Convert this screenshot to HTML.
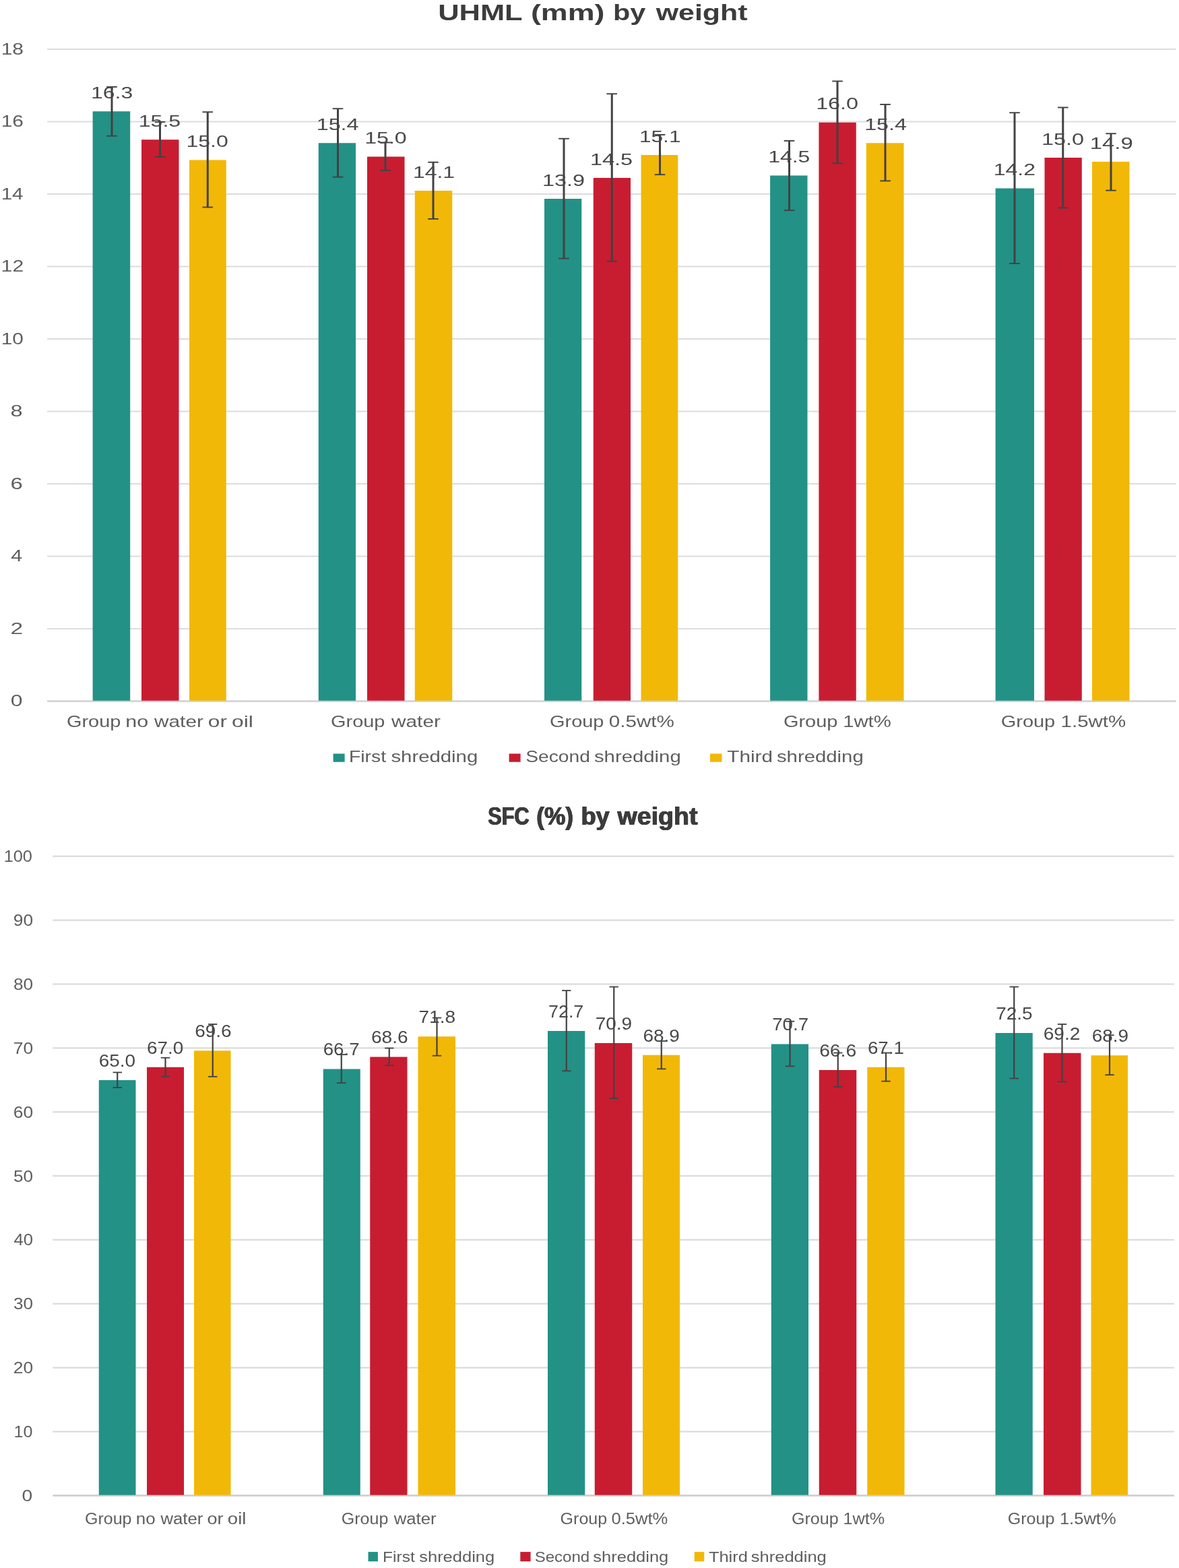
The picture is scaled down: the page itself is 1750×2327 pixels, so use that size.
<!DOCTYPE html>
<html lang="en"><head><meta charset="utf-8"><title>UHML and SFC by weight</title>
<style>
html,body{margin:0;padding:0;background:#fff;}
body{width:1750px;height:2327px;overflow:hidden;}
svg{display:block;font-family:"Liberation Sans",sans-serif;}
</style></head><body>
<svg width="1750" height="2327" viewBox="0 0 1750 2327">
<rect width="1750" height="2327" fill="#ffffff"/>
<g>
<rect x="70.00" y="72.00" width="1675.75" height="2.00" fill="#DCDCDC"/>
<rect x="70.00" y="179.51" width="1675.75" height="2.00" fill="#DCDCDC"/>
<rect x="70.00" y="287.02" width="1675.75" height="2.00" fill="#DCDCDC"/>
<rect x="70.00" y="394.53" width="1675.75" height="2.00" fill="#DCDCDC"/>
<rect x="70.00" y="502.04" width="1675.75" height="2.00" fill="#DCDCDC"/>
<rect x="70.00" y="609.56" width="1675.75" height="2.00" fill="#DCDCDC"/>
<rect x="70.00" y="717.07" width="1675.75" height="2.00" fill="#DCDCDC"/>
<rect x="70.00" y="824.58" width="1675.75" height="2.00" fill="#DCDCDC"/>
<rect x="70.00" y="932.09" width="1675.75" height="2.00" fill="#DCDCDC"/>
<rect x="70.00" y="1039.45" width="1675.75" height="2.30" fill="#CDCDCD"/>
<rect x="78.25" y="1269.60" width="1664.50" height="2.30" fill="#DCDCDC"/>
<rect x="78.25" y="1364.47" width="1664.50" height="2.30" fill="#DCDCDC"/>
<rect x="78.25" y="1459.35" width="1664.50" height="2.30" fill="#DCDCDC"/>
<rect x="78.25" y="1554.22" width="1664.50" height="2.30" fill="#DCDCDC"/>
<rect x="78.25" y="1649.10" width="1664.50" height="2.30" fill="#DCDCDC"/>
<rect x="78.25" y="1743.97" width="1664.50" height="2.30" fill="#DCDCDC"/>
<rect x="78.25" y="1838.85" width="1664.50" height="2.30" fill="#DCDCDC"/>
<rect x="78.25" y="1933.72" width="1664.50" height="2.30" fill="#DCDCDC"/>
<rect x="78.25" y="2028.60" width="1664.50" height="2.30" fill="#DCDCDC"/>
<rect x="78.25" y="2123.47" width="1664.50" height="2.30" fill="#DCDCDC"/>
<rect x="78.25" y="2218.20" width="1664.50" height="2.60" fill="#CDCDCD"/>
<rect x="137.60" y="165.25" width="55.60" height="874.55" fill="#239186"/>
<rect x="210.00" y="207.25" width="55.50" height="832.55" fill="#C81D31"/>
<rect x="281.00" y="237.50" width="54.75" height="802.30" fill="#F2B807"/>
<rect x="472.75" y="212.25" width="55.25" height="827.55" fill="#239186"/>
<rect x="545.00" y="232.50" width="55.50" height="807.30" fill="#C81D31"/>
<rect x="615.75" y="283.00" width="55.50" height="756.80" fill="#F2B807"/>
<rect x="808.00" y="295.00" width="55.25" height="744.80" fill="#239186"/>
<rect x="880.75" y="264.00" width="55.25" height="775.80" fill="#C81D31"/>
<rect x="951.50" y="230.00" width="54.75" height="809.80" fill="#F2B807"/>
<rect x="1143.10" y="260.50" width="55.40" height="779.30" fill="#239186"/>
<rect x="1215.40" y="181.75" width="55.35" height="858.05" fill="#C81D31"/>
<rect x="1285.75" y="212.25" width="55.75" height="827.55" fill="#F2B807"/>
<rect x="1477.60" y="279.50" width="57.40" height="760.30" fill="#239186"/>
<rect x="1550.50" y="234.00" width="55.25" height="805.80" fill="#C81D31"/>
<rect x="1621.00" y="240.00" width="55.50" height="799.80" fill="#F2B807"/>
<rect x="164.50" y="129.00" width="3.00" height="72.78" fill="#424242"/>
<rect x="158.20" y="128.05" width="15.60" height="1.90" fill="#424242"/>
<rect x="158.20" y="200.83" width="15.60" height="1.90" fill="#424242"/>
<rect x="236.00" y="181.00" width="3.00" height="51.80" fill="#424242"/>
<rect x="229.70" y="180.05" width="15.60" height="1.90" fill="#424242"/>
<rect x="229.70" y="231.85" width="15.60" height="1.90" fill="#424242"/>
<rect x="306.75" y="166.25" width="3.00" height="141.27" fill="#424242"/>
<rect x="300.45" y="165.30" width="15.60" height="1.90" fill="#424242"/>
<rect x="300.45" y="306.57" width="15.60" height="1.90" fill="#424242"/>
<rect x="500.00" y="161.25" width="3.00" height="101.48" fill="#424242"/>
<rect x="493.70" y="160.30" width="15.60" height="1.90" fill="#424242"/>
<rect x="493.70" y="261.78" width="15.60" height="1.90" fill="#424242"/>
<rect x="570.50" y="211.50" width="3.00" height="41.30" fill="#424242"/>
<rect x="564.20" y="210.55" width="15.60" height="1.90" fill="#424242"/>
<rect x="564.20" y="251.85" width="15.60" height="1.90" fill="#424242"/>
<rect x="641.50" y="240.75" width="3.00" height="84.15" fill="#424242"/>
<rect x="635.20" y="239.80" width="15.60" height="1.90" fill="#424242"/>
<rect x="635.20" y="323.95" width="15.60" height="1.90" fill="#424242"/>
<rect x="835.50" y="205.75" width="3.00" height="177.83" fill="#424242"/>
<rect x="829.20" y="204.80" width="15.60" height="1.90" fill="#424242"/>
<rect x="829.20" y="382.63" width="15.60" height="1.90" fill="#424242"/>
<rect x="906.75" y="139.25" width="3.00" height="248.62" fill="#424242"/>
<rect x="900.45" y="138.30" width="15.60" height="1.90" fill="#424242"/>
<rect x="900.45" y="386.93" width="15.60" height="1.90" fill="#424242"/>
<rect x="978.00" y="200.00" width="3.00" height="59.12" fill="#424242"/>
<rect x="971.70" y="199.05" width="15.60" height="1.90" fill="#424242"/>
<rect x="971.70" y="258.18" width="15.60" height="1.90" fill="#424242"/>
<rect x="1170.00" y="209.00" width="3.00" height="103.17" fill="#424242"/>
<rect x="1163.70" y="208.05" width="15.60" height="1.90" fill="#424242"/>
<rect x="1163.70" y="311.22" width="15.60" height="1.90" fill="#424242"/>
<rect x="1241.50" y="120.50" width="3.00" height="121.80" fill="#424242"/>
<rect x="1235.20" y="119.55" width="15.60" height="1.90" fill="#424242"/>
<rect x="1235.20" y="241.35" width="15.60" height="1.90" fill="#424242"/>
<rect x="1312.50" y="155.00" width="3.00" height="113.45" fill="#424242"/>
<rect x="1306.20" y="154.05" width="15.60" height="1.90" fill="#424242"/>
<rect x="1306.20" y="267.50" width="15.60" height="1.90" fill="#424242"/>
<rect x="1504.50" y="167.25" width="3.00" height="223.80" fill="#424242"/>
<rect x="1498.20" y="166.30" width="15.60" height="1.90" fill="#424242"/>
<rect x="1498.20" y="390.10" width="15.60" height="1.90" fill="#424242"/>
<rect x="1576.25" y="159.50" width="3.00" height="149.00" fill="#424242"/>
<rect x="1569.95" y="158.55" width="15.60" height="1.90" fill="#424242"/>
<rect x="1569.95" y="307.55" width="15.60" height="1.90" fill="#424242"/>
<rect x="1647.50" y="198.25" width="3.00" height="84.38" fill="#424242"/>
<rect x="1641.20" y="197.30" width="15.60" height="1.90" fill="#424242"/>
<rect x="1641.20" y="281.68" width="15.60" height="1.90" fill="#424242"/>
<rect x="146.75" y="1603.00" width="54.75" height="615.70" fill="#239186"/>
<rect x="218.00" y="1583.75" width="55.00" height="634.95" fill="#C81D31"/>
<rect x="288.00" y="1559.25" width="54.50" height="659.45" fill="#F2B807"/>
<rect x="479.75" y="1586.50" width="55.00" height="632.20" fill="#239186"/>
<rect x="549.25" y="1568.50" width="55.25" height="650.20" fill="#C81D31"/>
<rect x="620.50" y="1538.25" width="55.50" height="680.45" fill="#F2B807"/>
<rect x="813.00" y="1530.00" width="55.25" height="688.70" fill="#239186"/>
<rect x="882.75" y="1548.00" width="55.50" height="670.70" fill="#C81D31"/>
<rect x="954.00" y="1565.75" width="55.00" height="652.95" fill="#F2B807"/>
<rect x="1144.75" y="1549.50" width="55.25" height="669.20" fill="#239186"/>
<rect x="1215.75" y="1588.00" width="55.50" height="630.70" fill="#C81D31"/>
<rect x="1287.25" y="1583.75" width="55.25" height="634.95" fill="#F2B807"/>
<rect x="1477.50" y="1533.00" width="55.25" height="685.70" fill="#239186"/>
<rect x="1549.00" y="1562.75" width="55.50" height="655.95" fill="#C81D31"/>
<rect x="1619.50" y="1566.25" width="54.50" height="652.45" fill="#F2B807"/>
<rect x="173.15" y="1591.50" width="2.20" height="22.47" fill="#424242"/>
<rect x="167.55" y="1590.60" width="13.40" height="1.80" fill="#424242"/>
<rect x="167.55" y="1613.07" width="13.40" height="1.80" fill="#424242"/>
<rect x="244.40" y="1569.75" width="2.20" height="27.83" fill="#424242"/>
<rect x="238.80" y="1568.85" width="13.40" height="1.80" fill="#424242"/>
<rect x="238.80" y="1596.67" width="13.40" height="1.80" fill="#424242"/>
<rect x="314.65" y="1520.00" width="2.20" height="77.80" fill="#424242"/>
<rect x="309.05" y="1519.10" width="13.40" height="1.80" fill="#424242"/>
<rect x="309.05" y="1596.90" width="13.40" height="1.80" fill="#424242"/>
<rect x="505.65" y="1565.00" width="2.20" height="42.12" fill="#424242"/>
<rect x="500.05" y="1564.10" width="13.40" height="1.80" fill="#424242"/>
<rect x="500.05" y="1606.22" width="13.40" height="1.80" fill="#424242"/>
<rect x="576.65" y="1555.50" width="2.20" height="25.65" fill="#424242"/>
<rect x="571.05" y="1554.60" width="13.40" height="1.80" fill="#424242"/>
<rect x="571.05" y="1580.25" width="13.40" height="1.80" fill="#424242"/>
<rect x="647.40" y="1510.50" width="2.20" height="56.20" fill="#424242"/>
<rect x="641.80" y="1509.60" width="13.40" height="1.80" fill="#424242"/>
<rect x="641.80" y="1565.80" width="13.40" height="1.80" fill="#424242"/>
<rect x="839.65" y="1470.00" width="2.20" height="119.30" fill="#424242"/>
<rect x="834.05" y="1469.10" width="13.40" height="1.80" fill="#424242"/>
<rect x="834.05" y="1588.40" width="13.40" height="1.80" fill="#424242"/>
<rect x="910.15" y="1464.50" width="2.20" height="165.60" fill="#424242"/>
<rect x="904.55" y="1463.60" width="13.40" height="1.80" fill="#424242"/>
<rect x="904.55" y="1629.20" width="13.40" height="1.80" fill="#424242"/>
<rect x="980.65" y="1545.00" width="2.20" height="41.33" fill="#424242"/>
<rect x="975.05" y="1544.10" width="13.40" height="1.80" fill="#424242"/>
<rect x="975.05" y="1585.42" width="13.40" height="1.80" fill="#424242"/>
<rect x="1171.40" y="1515.75" width="2.20" height="66.62" fill="#424242"/>
<rect x="1165.80" y="1514.85" width="13.40" height="1.80" fill="#424242"/>
<rect x="1165.80" y="1581.47" width="13.40" height="1.80" fill="#424242"/>
<rect x="1242.65" y="1562.50" width="2.20" height="50.30" fill="#424242"/>
<rect x="1237.05" y="1561.60" width="13.40" height="1.80" fill="#424242"/>
<rect x="1237.05" y="1611.90" width="13.40" height="1.80" fill="#424242"/>
<rect x="1313.90" y="1562.50" width="2.20" height="42.15" fill="#424242"/>
<rect x="1308.30" y="1561.60" width="13.40" height="1.80" fill="#424242"/>
<rect x="1308.30" y="1603.75" width="13.40" height="1.80" fill="#424242"/>
<rect x="1504.15" y="1464.50" width="2.20" height="135.95" fill="#424242"/>
<rect x="1498.55" y="1463.60" width="13.40" height="1.80" fill="#424242"/>
<rect x="1498.55" y="1599.55" width="13.40" height="1.80" fill="#424242"/>
<rect x="1575.40" y="1520.00" width="2.20" height="85.50" fill="#424242"/>
<rect x="1569.80" y="1519.10" width="13.40" height="1.80" fill="#424242"/>
<rect x="1569.80" y="1604.60" width="13.40" height="1.80" fill="#424242"/>
<rect x="1645.90" y="1536.25" width="2.20" height="58.95" fill="#424242"/>
<rect x="1640.30" y="1535.35" width="13.40" height="1.80" fill="#424242"/>
<rect x="1640.30" y="1594.30" width="13.40" height="1.80" fill="#424242"/>
<rect x="494.60" y="1118.50" width="17.00" height="12.30" fill="#239186"/>
<rect x="755.60" y="1118.50" width="17.00" height="12.30" fill="#C81D31"/>
<rect x="1054.00" y="1118.50" width="17.50" height="12.30" fill="#F2B807"/>
<rect x="546.50" y="2303.10" width="14.40" height="14.10" fill="#239186"/>
<rect x="772.30" y="2303.10" width="15.30" height="14.10" fill="#C81D31"/>
<rect x="1030.75" y="2303.10" width="14.50" height="14.10" fill="#F2B807"/>
</g>
<g>
<text transform="translate(135.08 145.85) scale(1.3624 1)" font-size="23.4" fill="#484848">16.3</text>
<text transform="translate(205.66 187.85) scale(1.3744 1)" font-size="23.4" fill="#484848">15.5</text>
<text transform="translate(276.42 218.10) scale(1.3685 1)" font-size="23.4" fill="#484848">15.0</text>
<text transform="translate(469.65 192.85) scale(1.3822 1)" font-size="23.4" fill="#484848">15.4</text>
<text transform="translate(541.16 213.10) scale(1.3744 1)" font-size="23.4" fill="#484848">15.0</text>
<text transform="translate(612.93 263.60) scale(1.3632 1)" font-size="23.4" fill="#484848">14.1</text>
<text transform="translate(804.90 275.60) scale(1.3834 1)" font-size="23.4" fill="#484848">13.9</text>
<text transform="translate(875.89 244.60) scale(1.3860 1)" font-size="23.4" fill="#484848">14.5</text>
<text transform="translate(948.95 210.60) scale(1.3515 1)" font-size="23.4" fill="#484848">15.1</text>
<text transform="translate(1140.18 241.10) scale(1.3627 1)" font-size="23.4" fill="#484848">14.5</text>
<text transform="translate(1211.15 162.35) scale(1.3802 1)" font-size="23.4" fill="#484848">16.0</text>
<text transform="translate(1283.16 192.85) scale(1.3764 1)" font-size="23.4" fill="#484848">15.4</text>
<text transform="translate(1474.67 260.10) scale(1.3691 1)" font-size="23.4" fill="#484848">14.2</text>
<text transform="translate(1545.89 214.60) scale(1.3860 1)" font-size="23.4" fill="#484848">15.0</text>
<text transform="translate(1617.87 220.60) scale(1.4009 1)" font-size="23.4" fill="#484848">14.9</text>
<text transform="translate(146.69 1582.80) scale(1.0598 1)" font-size="26.3" fill="#484848">65.0</text>
<text transform="translate(217.94 1563.55) scale(1.0598 1)" font-size="26.3" fill="#484848">67.0</text>
<text transform="translate(289.19 1539.05) scale(1.0636 1)" font-size="26.3" fill="#484848">69.6</text>
<text transform="translate(479.70 1566.30) scale(1.0534 1)" font-size="26.3" fill="#484848">66.7</text>
<text transform="translate(550.93 1548.30) scale(1.0688 1)" font-size="26.3" fill="#484848">68.6</text>
<text transform="translate(621.43 1518.05) scale(1.0688 1)" font-size="26.3" fill="#484848">71.8</text>
<text transform="translate(813.99 1509.80) scale(1.0227 1)" font-size="26.3" fill="#484848">72.7</text>
<text transform="translate(883.69 1527.80) scale(1.0636 1)" font-size="26.3" fill="#484848">70.9</text>
<text transform="translate(954.44 1545.55) scale(1.0636 1)" font-size="26.3" fill="#484848">68.9</text>
<text transform="translate(1146.20 1529.30) scale(1.0534 1)" font-size="26.3" fill="#484848">70.7</text>
<text transform="translate(1216.18 1567.80) scale(1.0739 1)" font-size="26.3" fill="#484848">66.6</text>
<text transform="translate(1287.95 1563.55) scale(1.0534 1)" font-size="26.3" fill="#484848">67.1</text>
<text transform="translate(1478.19 1512.80) scale(1.0636 1)" font-size="26.3" fill="#484848">72.5</text>
<text transform="translate(1548.68 1542.55) scale(1.0688 1)" font-size="26.3" fill="#484848">69.2</text>
<text transform="translate(1620.69 1546.05) scale(1.0636 1)" font-size="26.3" fill="#484848">68.9</text>
<text transform="translate(1.63 80.50) scale(1.2740 1)" font-size="23.5" fill="#5e5e5e">18</text>
<text transform="translate(1.63 188.01) scale(1.2740 1)" font-size="23.5" fill="#5e5e5e">16</text>
<text transform="translate(1.66 295.52) scale(1.2579 1)" font-size="23.5" fill="#5e5e5e">14</text>
<text transform="translate(1.62 403.03) scale(1.2849 1)" font-size="23.5" fill="#5e5e5e">12</text>
<text transform="translate(1.64 510.54) scale(1.2686 1)" font-size="23.5" fill="#5e5e5e">10</text>
<text transform="translate(15.61 618.06) scale(1.3874 1)" font-size="23.5" fill="#5e5e5e">8</text>
<text transform="translate(15.46 725.57) scale(1.4000 1)" font-size="23.5" fill="#5e5e5e">6</text>
<text transform="translate(16.35 833.08) scale(1.2941 1)" font-size="23.5" fill="#5e5e5e">4</text>
<text transform="translate(15.43 940.59) scale(1.4259 1)" font-size="23.5" fill="#5e5e5e">2</text>
<text transform="translate(15.77 1048.10) scale(1.3628 1)" font-size="23.5" fill="#5e5e5e">0</text>
<text transform="translate(5.65 1279.15) scale(1.0267 1)" font-size="24.7" fill="#5e5e5e">100</text>
<text transform="translate(19.83 1374.03) scale(1.0654 1)" font-size="24.7" fill="#5e5e5e">90</text>
<text transform="translate(19.94 1468.90) scale(1.0612 1)" font-size="24.7" fill="#5e5e5e">80</text>
<text transform="translate(19.72 1563.78) scale(1.0696 1)" font-size="24.7" fill="#5e5e5e">70</text>
<text transform="translate(19.72 1658.65) scale(1.0696 1)" font-size="24.7" fill="#5e5e5e">60</text>
<text transform="translate(20.05 1753.53) scale(1.0571 1)" font-size="24.7" fill="#5e5e5e">50</text>
<text transform="translate(20.48 1848.40) scale(1.0408 1)" font-size="24.7" fill="#5e5e5e">40</text>
<text transform="translate(20.05 1943.28) scale(1.0571 1)" font-size="24.7" fill="#5e5e5e">30</text>
<text transform="translate(19.72 2038.15) scale(1.0696 1)" font-size="24.7" fill="#5e5e5e">20</text>
<text transform="translate(20.57 2133.03) scale(1.0187 1)" font-size="24.7" fill="#5e5e5e">10</text>
<text transform="translate(32.47 2227.90) scale(1.1429 1)" font-size="24.7" fill="#5e5e5e">0</text>
<text y="1079.00" font-size="23.2" fill="#5e5e5e"><tspan x="98.93" textLength="80.40" lengthAdjust="spacingAndGlyphs">Group</tspan> <tspan x="186.33" textLength="33.85" lengthAdjust="spacingAndGlyphs">no</tspan> <tspan x="229.13" textLength="72.69" lengthAdjust="spacingAndGlyphs">water</tspan> <tspan x="308.88" textLength="28.07" lengthAdjust="spacingAndGlyphs">or</tspan> <tspan x="343.97" textLength="31.83" lengthAdjust="spacingAndGlyphs">oil</tspan></text>
<text y="1079.00" font-size="23.2" fill="#5e5e5e"><tspan x="491.03" textLength="80.40" lengthAdjust="spacingAndGlyphs">Group</tspan> <tspan x="581.13" textLength="72.69" lengthAdjust="spacingAndGlyphs">water</tspan></text>
<text y="1079.00" font-size="23.2" fill="#5e5e5e"><tspan x="816.03" textLength="80.40" lengthAdjust="spacingAndGlyphs">Group</tspan> <tspan x="903.85" textLength="96.98" lengthAdjust="spacingAndGlyphs">0.5wt%</tspan></text>
<text y="1079.00" font-size="23.2" fill="#5e5e5e"><tspan x="1162.93" textLength="80.40" lengthAdjust="spacingAndGlyphs">Group</tspan> <tspan x="1251.16" textLength="71.56" lengthAdjust="spacingAndGlyphs">1wt%</tspan></text>
<text y="1079.00" font-size="23.2" fill="#5e5e5e"><tspan x="1485.73" textLength="80.50" lengthAdjust="spacingAndGlyphs">Group</tspan> <tspan x="1574.64" textLength="96.48" lengthAdjust="spacingAndGlyphs">1.5wt%</tspan></text>
<text y="2261.60" font-size="23.5" fill="#5e5e5e"><tspan x="126.03" textLength="69.50" lengthAdjust="spacingAndGlyphs">Group</tspan> <tspan x="201.85" textLength="28.82" lengthAdjust="spacingAndGlyphs">no</tspan> <tspan x="238.51" textLength="62.85" lengthAdjust="spacingAndGlyphs">water</tspan> <tspan x="307.62" textLength="24.01" lengthAdjust="spacingAndGlyphs">or</tspan> <tspan x="337.85" textLength="27.54" lengthAdjust="spacingAndGlyphs">oil</tspan></text>
<text y="2261.60" font-size="23.5" fill="#5e5e5e"><tspan x="506.83" textLength="69.50" lengthAdjust="spacingAndGlyphs">Group</tspan> <tspan x="584.76" textLength="62.85" lengthAdjust="spacingAndGlyphs">water</tspan></text>
<text y="2261.60" font-size="23.5" fill="#5e5e5e"><tspan x="831.63" textLength="69.50" lengthAdjust="spacingAndGlyphs">Group</tspan> <tspan x="907.52" textLength="83.84" lengthAdjust="spacingAndGlyphs">0.5wt%</tspan></text>
<text y="2261.60" font-size="23.5" fill="#5e5e5e"><tspan x="1174.93" textLength="69.71" lengthAdjust="spacingAndGlyphs">Group</tspan> <tspan x="1251.48" textLength="61.68" lengthAdjust="spacingAndGlyphs">1wt%</tspan></text>
<text y="2261.60" font-size="23.5" fill="#5e5e5e"><tspan x="1495.83" textLength="69.50" lengthAdjust="spacingAndGlyphs">Group</tspan> <tspan x="1572.95" textLength="83.66" lengthAdjust="spacingAndGlyphs">1.5wt%</tspan></text>
<text y="1131.30" font-size="23.6" fill="#5e5e5e"><tspan x="518.02" textLength="55.07" lengthAdjust="spacingAndGlyphs">First</tspan> <tspan x="580.45" textLength="128.82" lengthAdjust="spacingAndGlyphs">shredding</tspan></text>
<text y="1131.30" font-size="23.6" fill="#5e5e5e"><tspan x="780.31" textLength="95.60" lengthAdjust="spacingAndGlyphs">Second</tspan> <tspan x="881.95" textLength="128.82" lengthAdjust="spacingAndGlyphs">shredding</tspan></text>
<text y="1131.30" font-size="23.6" fill="#5e5e5e"><tspan x="1079.37" textLength="67.62" lengthAdjust="spacingAndGlyphs">Third</tspan> <tspan x="1152.95" textLength="128.82" lengthAdjust="spacingAndGlyphs">shredding</tspan></text>
<text y="2317.70" font-size="22.6" fill="#5e5e5e"><tspan x="568.04" textLength="47.74" lengthAdjust="spacingAndGlyphs">First</tspan> <tspan x="622.22" textLength="111.92" lengthAdjust="spacingAndGlyphs">shredding</tspan></text>
<text y="2317.70" font-size="22.6" fill="#5e5e5e"><tspan x="793.69" textLength="81.57" lengthAdjust="spacingAndGlyphs">Second</tspan> <tspan x="880.37" textLength="111.92" lengthAdjust="spacingAndGlyphs">shredding</tspan></text>
<text y="2317.70" font-size="22.6" fill="#5e5e5e"><tspan x="1051.94" textLength="57.90" lengthAdjust="spacingAndGlyphs">Third</tspan> <tspan x="1114.87" textLength="111.92" lengthAdjust="spacingAndGlyphs">shredding</tspan></text>
<text y="29.50" font-size="33" fill="#3c3c3c" font-weight="700"><tspan x="650.18" textLength="124.66" lengthAdjust="spacingAndGlyphs">UHML</tspan> <tspan x="787.90" textLength="109.62" lengthAdjust="spacingAndGlyphs">(mm)</tspan> <tspan x="909.91" textLength="48.43" lengthAdjust="spacingAndGlyphs">by</tspan> <tspan x="973.67" textLength="135.84" lengthAdjust="spacingAndGlyphs">weight</tspan></text>
<text y="1224.30" font-size="36.5" fill="#3c3c3c" font-weight="700" style="filter:drop-shadow(0.3px 0 0 #3c3c3c) drop-shadow(-0.3px 0 0 #3c3c3c)"><tspan x="724.82" textLength="61.16" lengthAdjust="spacingAndGlyphs">SFC</tspan> <tspan x="796.75" textLength="54.83" lengthAdjust="spacingAndGlyphs">(%)</tspan> <tspan x="862.93" textLength="42.34" lengthAdjust="spacingAndGlyphs">by</tspan> <tspan x="917.09" textLength="118.90" lengthAdjust="spacingAndGlyphs">weight</tspan></text>
</g>
</svg>
</body></html>
